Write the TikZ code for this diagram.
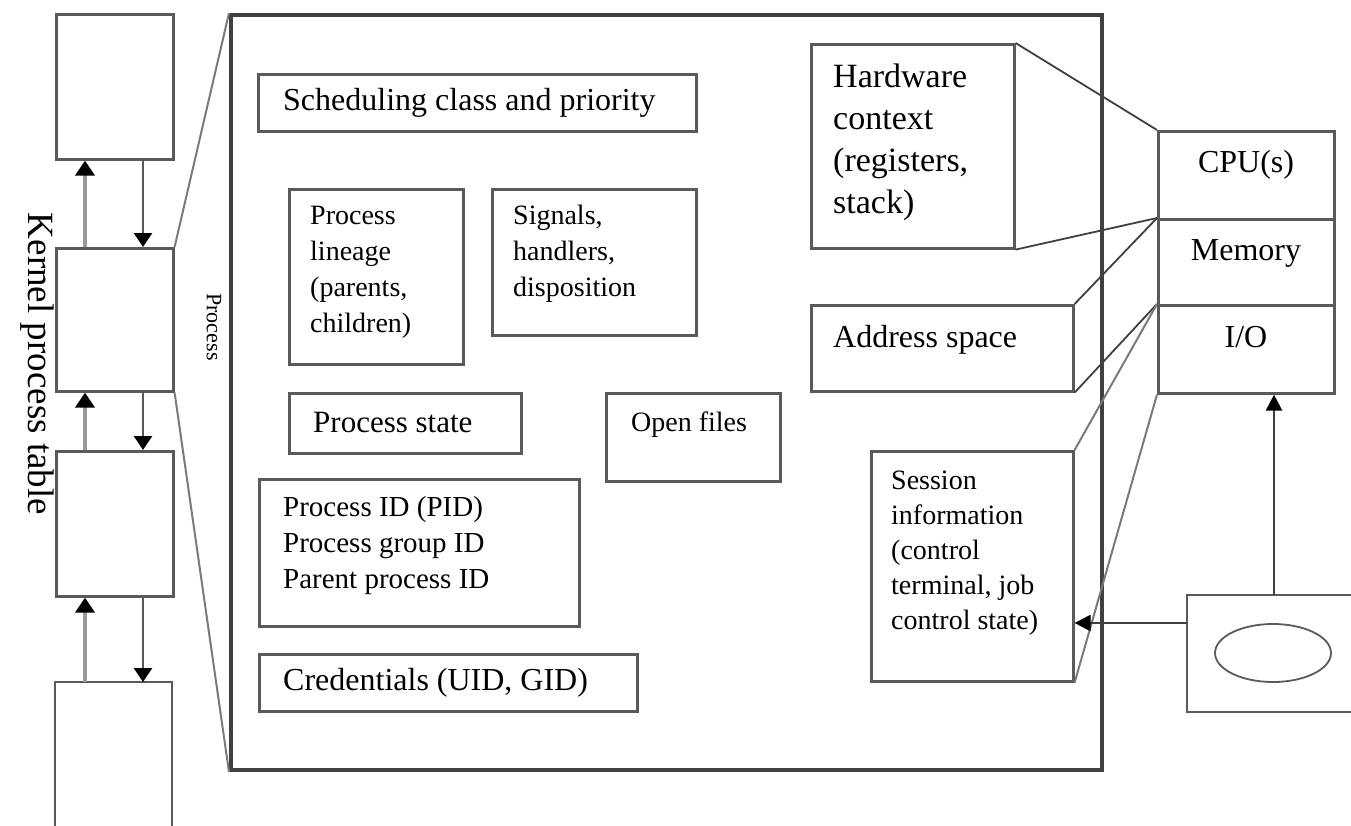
\documentclass[tikz,border=0pt]{standalone}
\usepackage{fontspec}
\setmainfont{Liberation Serif}
\usetikzlibrary{arrows.meta,shapes.geometric}
\definecolor{bordergray}{HTML}{5A5A5A}
\definecolor{darkline}{HTML}{404040}
\definecolor{lightline}{HTML}{9A9A9A}
\definecolor{midline}{HTML}{7A7A7A}
\begin{document}
\begin{tikzpicture}[x=1pt,y=-1pt,
  box/.style={draw=bordergray, line width=2.6pt, fill=white, inner sep=0pt, anchor=north west},
  bigbox/.style={draw=darkline, line width=4pt, inner sep=0pt, anchor=north west},
  txt/.style={inner sep=0pt, anchor=west, align=left, text=black},
  conn/.style={draw=darkline, line width=1.8pt},
  gconn/.style={draw=midline, line width=2pt},
  uparrow/.style={draw=lightline, line width=4.5pt, -{Triangle[length=15pt,width=19pt,color=black]}},
  downarrow/.style={draw=bordergray, line width=2.6pt, -{Triangle[length=14pt,width=18pt,color=black]}},
  blackarrow/.style={draw=darkline, line width=2.2pt, -{Triangle[length=16pt,width=16pt,color=black]}}
]
\useasboundingbox (0,0) rectangle (1351,825);

% big process box
\node[bigbox, minimum width=871pt, minimum height=755pt] (big) at (229,13) {};
\node[inner sep=0pt, rotate=-90, font=\fontsize{22}{24}\selectfont] (proclabel) at (214,327) {Process};

% left column: kernel process table
\node[box, minimum width=117pt, minimum height=145pt] (k1) at (55,13) {};
\node[box, minimum width=117pt, minimum height=143pt] (k2) at (55,247) {};
\node[box, minimum width=117pt, minimum height=145pt] (k3) at (55,450) {};
\coordinate (k4tl) at (55,682);
\coordinate (k4tr) at (172,682);
\draw[draw=bordergray, line width=2.6pt] (55,830) -- (k4tl) -- (k4tr) -- (172,830);
\node[inner sep=0pt, rotate=-90, font=\fontsize{37}{40}\selectfont] (kpt) at (37,364) {Kernel process table};

\draw[uparrow] ([xshift=30pt]k2.north west) -- ([xshift=30pt]k1.south west);
\draw[downarrow] ([xshift=88pt]k1.south west) -- ([xshift=88pt]k2.north west);
\draw[uparrow] ([xshift=30pt]k3.north west) -- ([xshift=30pt]k2.south west);
\draw[downarrow] ([xshift=88pt]k2.south west) -- ([xshift=88pt]k3.north west);
\draw[uparrow] ([xshift=30pt]k4tl) -- ([xshift=30pt]k3.south west);
\draw[downarrow] ([xshift=88pt]k3.south west) -- ([xshift=88pt]k4tl);

% zoom lines
\draw[gconn] (k2.north east) -- (big.north west);
\draw[gconn] (k2.south east) -- (big.south west);

% inner boxes
\node[box, minimum width=438pt, minimum height=57pt] (sched) at (257,73) {};
\node[txt, font=\fontsize{32}{38}\selectfont] (schedt) at (283,103) {Scheduling class and priority};

\node[box, minimum width=174pt, minimum height=175pt] (lin) at (288,188) {};
\node[txt, font=\fontsize{28}{36}\selectfont] (lint) at (310,272) {Process\\lineage\\(parents,\\children)};

\node[box, minimum width=204pt, minimum height=146pt] (sig) at (491,188) {};
\node[txt, font=\fontsize{28}{36}\selectfont] (sigt) at (513,254) {Signals,\\handlers,\\disposition};

\node[box, minimum width=232pt, minimum height=60pt] (pst) at (288,392) {};
\node[txt, font=\fontsize{31}{36}\selectfont] (pstt) at (313,422) {Process state};

\node[box, minimum width=174pt, minimum height=88pt] (of) at (605,392) {};
\node[txt, font=\fontsize{28}{34}\selectfont] (oft) at (631,425) {Open files};

\node[box, minimum width=320pt, minimum height=147pt] (pid) at (258,478) {};
\node[txt, font=\fontsize{29}{36}\selectfont] (pidt) at (283,546) {Process ID (PID)\\Process group ID\\Parent process ID};

\node[box, minimum width=378pt, minimum height=57pt] (cred) at (258,653) {};
\node[txt, font=\fontsize{32}{38}\selectfont] (credt) at (283,683) {Credentials (UID, GID)};

\node[box, minimum width=203pt, minimum height=204pt] (hw) at (810,43) {};
\node[txt, font=\fontsize{34}{42}\selectfont] (hwt) at (833,142) {Hardware\\context\\(registers,\\stack)};

\node[box, minimum width=262pt, minimum height=86pt] (addr) at (810,304) {};
\node[txt, font=\fontsize{32}{38}\selectfont] (addrt) at (833,340) {Address space};

\node[box, minimum width=202pt, minimum height=230pt] (sess) at (870,450) {};
\node[txt, font=\fontsize{28}{35}\selectfont] (sesst) at (891,553) {Session\\information\\(control\\terminal, job\\control state)};

% hardware resources
\node[box, minimum width=176pt, minimum height=88pt] (cpu) at (1157,130) {};
\node[box, minimum width=176pt, minimum height=86pt] (mem) at (1157,218) {};
\node[box, minimum width=176pt, minimum height=88pt] (io) at (1157,304) {};
\node[inner sep=0pt, font=\fontsize{32}{38}\selectfont] (cput) at (1246,165) {CPU(s)};
\node[inner sep=0pt, font=\fontsize{32}{38}\selectfont] (memt) at (1246,253) {Memory};
\node[inner sep=0pt, font=\fontsize{32}{38}\selectfont] (iot) at (1246,337) {I/O};

% terminal box with ellipse
\coordinate (ebtl) at (1187,595);
\coordinate (ebbl) at (1187,712);
\draw[draw=bordergray, line width=2.6pt] (1351,595) -- (ebtl) -- (ebbl) -- (1351,712);
\node[draw=bordergray, line width=1.8pt, ellipse, minimum width=116pt, minimum height=58pt, inner sep=0pt] (ell) at (1273,653) {};

% connectors
\draw[conn] (hw.north east) -- (cpu.north west);
\draw[conn] (hw.south east) -- (mem.north west);
\draw[conn] (addr.north east) -- (mem.north west);
\draw[conn] (addr.south east) -- (io.north west);
\draw[gconn] (sess.north east) -- (io.north west);
\draw[gconn] (sess.south east) -- (io.south west);

\coordinate (ebup) at (1274,595);
\draw[blackarrow] (ebup) -- (ebup |- io.south);
\coordinate (ebin) at (1187,623);
\draw[blackarrow] (ebin) -- (ebin -| sess.east);
\end{tikzpicture}
\end{document}
